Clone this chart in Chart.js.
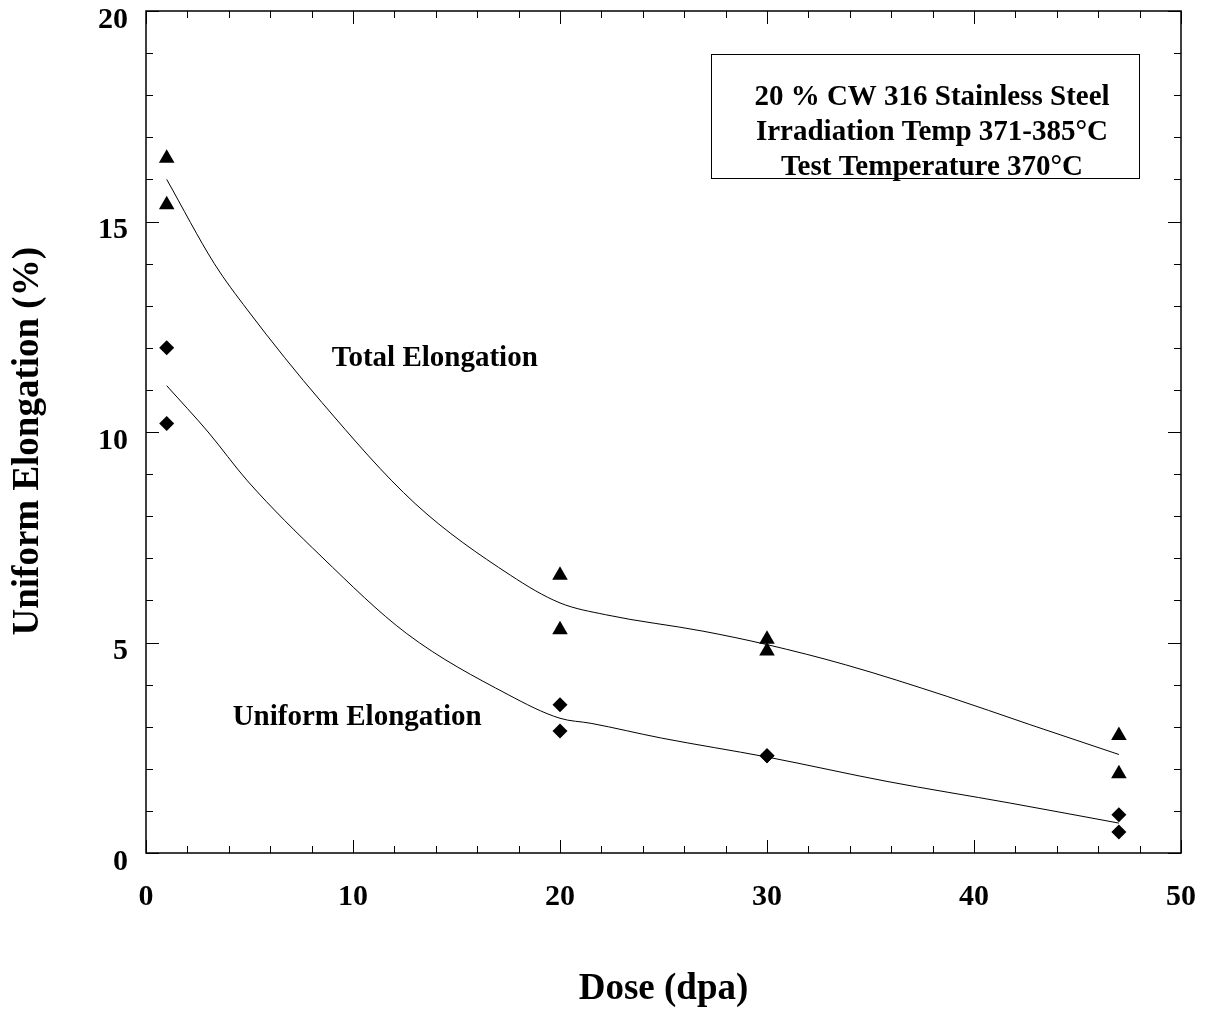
<!DOCTYPE html>
<html>
<head>
<meta charset="utf-8">
<script src="https://cdn.jsdelivr.net/npm/chart.js@4"></script>
<style>
  html, body { margin: 0; padding: 0; background: #fff; }
  #wrap { width: 1212px; height: 1012px; }
</style>
</head>
<body>
<div id="wrap"><canvas id="grafica" width="1212" height="1012"></canvas></div>
<script>
// measured points (dose in dpa, elongation in %)
const totalX = [1, 1, 20, 20, 30, 30, 47, 47];
const totalY = [16.5, 15.4, 6.6, 5.3, 5.08, 4.8, 2.79, 1.88];
const uniformX = [1, 1, 20, 20, 30, 30, 47, 47];
const uniformY = [12.0, 10.2, 3.52, 2.9, 2.31, 2.31, 0.91, 0.5];

// fitted curves
const totalFitX = [1, 3.3, 4.9, 8.5, 13, 17.6, 20, 22.2, 26.9, 30, 33.8, 38.7, 42.7, 47];
const totalFitY = [16.0, 14.0, 12.9, 10.7, 8.3, 6.6, 5.94, 5.66, 5.27, 4.95, 4.47, 3.72, 3.05, 2.34];
const uniformFitX = [1, 3, 4.9, 8.5, 12.6, 17.5, 20, 21.5, 24.9, 30, 35.8, 41.7, 47];
const uniformFitY = [11.1, 10.0, 8.84, 7.03, 5.21, 3.76, 3.2, 3.08, 2.73, 2.28, 1.70, 1.19, 0.71];

const infoLines = ["20 % CW 316 Stainless Steel", "Irradiation Temp 371-385\u00B0C", "Test Temperature 370\u00B0C"];
const curveLabels = [
    { text: "Total Elongation", x: 13.95, y: 11.75 },
    { text: "Uniform Elongation", x: 10.2, y: 3.22 }
];

const serif = "'Liberation Serif', 'DejaVu Serif', serif";
const pares = (xs, ys) => xs.map((x, i) => ({ x: x, y: ys[i] }));

// frame, inward ticks and the text annotations
const marco = {
    id: 'marco',
    afterDraw(chart) {
        const ctx = chart.ctx;
        const a = chart.chartArea;
        const sx = chart.scales.x, sy = chart.scales.y;
        ctx.save();
        ctx.strokeStyle = '#000';
        ctx.lineWidth = 1.5;
        ctx.strokeRect(a.left, a.top, a.right - a.left, a.bottom - a.top);

        ctx.lineWidth = 1;
        ctx.beginPath();
        for (let v = 0; v <= 50; v += 2) {
            const px = Math.round(sx.getPixelForValue(v)) + 0.5;
            const len = (v % 10 === 0) ? 13 : 7;
            ctx.moveTo(px, a.bottom); ctx.lineTo(px, a.bottom - len);
            ctx.moveTo(px, a.top); ctx.lineTo(px, a.top + len);
        }
        for (let v = 0; v <= 20; v += 1) {
            const py = Math.round(sy.getPixelForValue(v)) + 0.5;
            const len = (v % 5 === 0) ? 13 : 7;
            ctx.moveTo(a.left, py); ctx.lineTo(a.left + len, py);
            ctx.moveTo(a.right, py); ctx.lineTo(a.right - len, py);
        }
        ctx.stroke();

        // info box
        const bx = 711, by = 54, bw = 428, bh = 124;
        ctx.lineWidth = 1;
        ctx.strokeRect(bx + 0.5, by + 0.5, bw, bh);
        ctx.fillStyle = '#000';
        ctx.font = "bold 29px " + serif;
        ctx.textAlign = 'center';
        ctx.textBaseline = 'middle';
        infoLines.forEach((t, i) => ctx.fillText(t, bx + bw / 2 + 7, 98 + i * 35));

        ctx.font = "bold 29px " + serif;
        curveLabels.forEach(l => {
            ctx.fillText(l.text, sx.getPixelForValue(l.x), sy.getPixelForValue(l.y));
        });
        ctx.restore();
    }
};

new Chart(document.getElementById('grafica'), {
    type: 'scatter',
    data: {
        datasets: [
            {
                label: 'Total fit',
                type: 'line',
                data: pares(totalFitX, totalFitY),
                borderColor: '#000',
                borderWidth: 1,
                pointRadius: 0,
                cubicInterpolationMode: 'monotone',
                fill: false
            },
            {
                label: 'Uniform fit',
                type: 'line',
                data: pares(uniformFitX, uniformFitY),
                borderColor: '#000',
                borderWidth: 1,
                pointRadius: 0,
                cubicInterpolationMode: 'monotone',
                fill: false
            },
            {
                label: 'Total Elongation',
                data: pares(totalX, totalY),
                pointStyle: 'triangle',
                pointRadius: 9,
                backgroundColor: '#000',
                borderColor: '#000',
                borderWidth: 0
            },
            {
                label: 'Uniform Elongation',
                data: pares(uniformX, uniformY),
                pointStyle: 'rectRot',
                pointRadius: 7.5,
                backgroundColor: '#000',
                borderColor: '#000',
                borderWidth: 0
            }
        ]
    },
    options: {
        responsive: false,
        animation: false,
        layout: { padding: { top: 11, right: 31, left: 0, bottom: 0 } },
        plugins: { legend: { display: false }, tooltip: { enabled: false } },
        scales: {
            x: {
                type: 'linear',
                min: 0, max: 50,
                ticks: { stepSize: 10, color: '#000', font: { family: serif, size: 30, weight: 'bold' }, padding: 26 },
                grid: { display: false, drawTicks: false },
                border: { display: false },
                title: {
                    display: true,
                    text: 'Dose (dpa)',
                    color: '#000',
                    font: { family: serif, size: 37, weight: 'bold' },
                    padding: { top: 0, bottom: 0 }
                },
                afterFit(scale) {
                    scale.height = 159;
                    scale.paddingLeft = 0;
                    scale.paddingRight = 0;
                }
            },
            y: {
                type: 'linear',
                min: 0, max: 20,
                ticks: { stepSize: 5, color: '#000', font: { family: serif, size: 30, weight: 'bold' }, padding: 18, labelOffset: 9 },
                grid: { display: false, drawTicks: false },
                border: { display: false },
                title: {
                    display: true,
                    text: 'Uniform Elongation (%)  ',
                    color: '#000',
                    font: { family: serif, size: 37, weight: 'bold' },
                    padding: { top: 6, bottom: 0 }
                },
                afterFit(scale) {
                    scale.width = 146;
                    scale.paddingTop = 0;
                    scale.paddingBottom = 0;
                }
            }
        }
    },
    plugins: [marco]
});
</script>
</body>
</html>
